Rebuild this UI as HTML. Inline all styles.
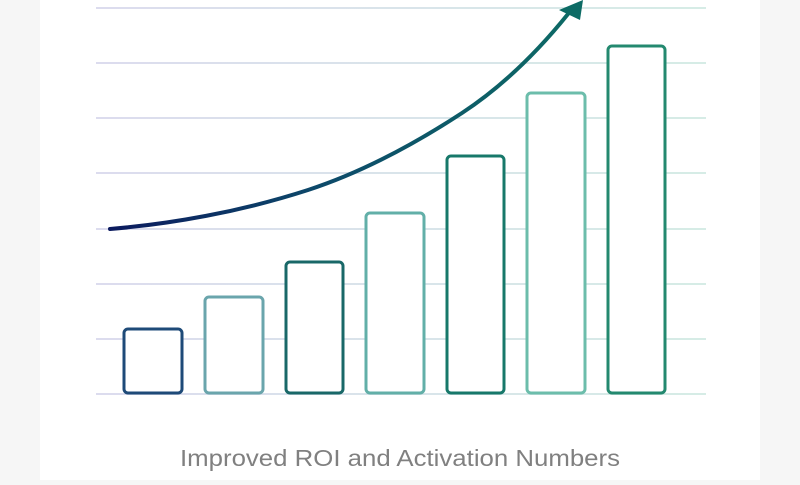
<!DOCTYPE html>
<html><head><meta charset="utf-8"><style>
html,body{margin:0;padding:0;background:#f6f6f6;}
</style></head><body>
<svg width="800" height="480" viewBox="0 0 800 480" xmlns="http://www.w3.org/2000/svg">
<defs>
<linearGradient id="g" x1="110" y1="0" x2="580" y2="0" gradientUnits="userSpaceOnUse">
<stop offset="0" stop-color="#0b1a5e"/><stop offset="0.45" stop-color="#0d4a6a"/><stop offset="1" stop-color="#0d6b65"/>
</linearGradient>
<linearGradient id="gl" x1="96" y1="0" x2="706" y2="0" gradientUnits="userSpaceOnUse">
<stop offset="0" stop-color="#dcdcee"/><stop offset="1" stop-color="#d6ece6"/>
</linearGradient>
</defs>
<rect x="0" y="0" width="800" height="480" fill="#f6f6f6"/>
<rect x="40" y="0" width="720" height="480" fill="#ffffff"/>
<g stroke="url(#gl)" stroke-width="2">
<line x1="96" y1="8" x2="706" y2="8"/>
<line x1="96" y1="63" x2="706" y2="63"/>
<line x1="96" y1="118" x2="706" y2="118"/>
<line x1="96" y1="173" x2="706" y2="173"/>
<line x1="96" y1="229" x2="706" y2="229"/>
<line x1="96" y1="284" x2="706" y2="284"/>
<line x1="96" y1="339" x2="706" y2="339"/>
<line x1="96" y1="394" x2="706" y2="394"/>
</g>
<g fill="#fff" stroke-width="3">
<rect x="124" y="329" width="58" height="64" rx="4" stroke="#1e4a78"/>
<rect x="205" y="297" width="58" height="96" rx="4" stroke="#6aa5ac"/>
<rect x="286" y="262" width="57" height="131" rx="4" stroke="#196868"/>
<rect x="366" y="213" width="58" height="180" rx="4" stroke="#62afa8"/>
<rect x="447" y="156" width="57" height="237" rx="4" stroke="#17786a"/>
<rect x="527" y="93" width="58" height="300" rx="4" stroke="#6cbdab"/>
<rect x="608" y="46" width="57" height="347" rx="4" stroke="#23896f"/>
</g>
<path d="M110 229 C 170 224, 240 212, 308 190 C 360 173, 410 147, 462 113 C 500 88, 535 55, 568 14" fill="none" stroke="url(#g)" stroke-width="4" stroke-linecap="round"/>
<polygon points="583,0 559,10 580,20" fill="#0d6b65"/>
<text x="400" y="466" text-anchor="middle" font-family="Liberation Sans, sans-serif" font-size="23" fill="#808080" textLength="440" lengthAdjust="spacingAndGlyphs">Improved ROI and Activation Numbers</text>
</svg>
</body></html>
